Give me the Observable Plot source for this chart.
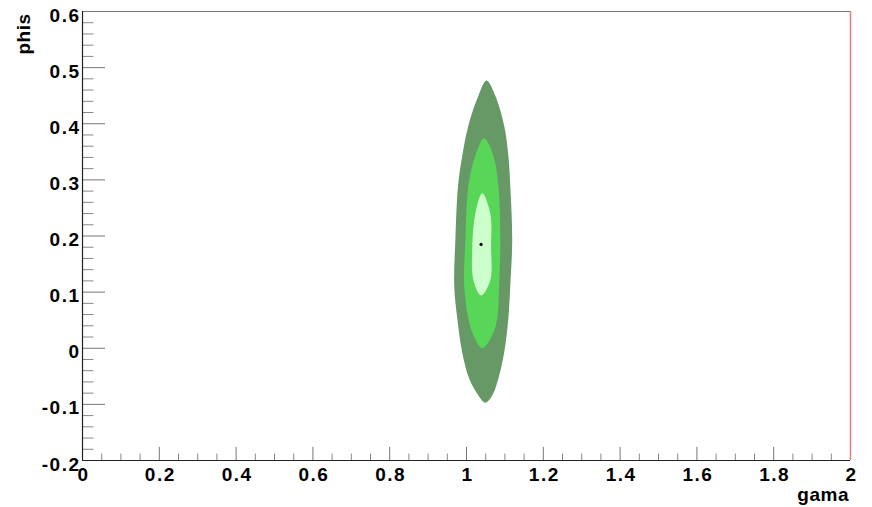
<!DOCTYPE html>
<html>
<head>
<meta charset="utf-8">
<script src="https://cdn.jsdelivr.net/npm/d3@7"></script>
<script src="https://cdn.jsdelivr.net/npm/@observablehq/plot@0.6"></script>
<style>
  html, body { margin: 0; padding: 0; background: #fff; }
  #chart svg { display: block; }
  #chart svg g[aria-label="y-axis tick label"] text,
  #chart svg g[aria-label="x-axis tick label"] text { letter-spacing: 1.5px; }
  #chart svg g[aria-label="text"] text { letter-spacing: 0.5px; }
</style>
</head>
<body>
<div id="chart"></div>
<script>
// Contour polygons (gama, phis)
const outerX = [1.052, 1.075, 1.098, 1.109, 1.114, 1.119, 1.114, 1.109, 1.098, 1.083, 1.067, 1.049, 1.031, 1.007, 0.989, 0.976, 0.968, 0.971, 0.978, 0.989, 1.005, 1.031];
const outerY = [0.477, 0.450, 0.397, 0.343, 0.290, 0.192, 0.112, 0.053, -0.008, -0.054, -0.084, -0.097, -0.084, -0.054, -0.008, 0.053, 0.112, 0.192, 0.290, 0.343, 0.397, 0.450];
const middleX = [1.046, 1.070, 1.083, 1.088, 1.085, 1.080, 1.067, 1.041, 1.018, 1.005, 0.994, 0.997, 1.005, 1.023];
const middleY = [0.374, 0.343, 0.290, 0.192, 0.112, 0.053, 0.023, 0.000, 0.023, 0.053, 0.112, 0.192, 0.290, 0.343];
const innerX = [1.041, 1.062, 1.064, 1.062, 1.038, 1.018, 1.015, 1.023];
const innerY = [0.276, 0.240, 0.180, 0.121, 0.094, 0.121, 0.180, 0.240];
const bestX = [1.038];
const bestY = [0.185];

const xTicks = [0, 0.2, 0.4, 0.6, 0.8, 1, 1.2, 1.4, 1.6, 1.8, 2];
const xMinor = [0.05, 0.1, 0.15, 0.25, 0.3, 0.35, 0.45, 0.5, 0.55, 0.65, 0.7, 0.75, 0.85, 0.9, 0.95, 1.05, 1.1, 1.15, 1.25, 1.3, 1.35, 1.45, 1.5, 1.55, 1.65, 1.7, 1.75, 1.85, 1.9, 1.95];
const yTicks = [-0.2, -0.1, 0, 0.1, 0.2, 0.3, 0.4, 0.5, 0.6];
const yMinor = [-0.18, -0.16, -0.14, -0.12, -0.08, -0.06, -0.04, -0.02, 0.02, 0.04, 0.06, 0.08, 0.12, 0.14, 0.16, 0.18, 0.22, 0.24, 0.26, 0.28, 0.32, 0.34, 0.36, 0.38, 0.42, 0.44, 0.46, 0.48, 0.52, 0.54, 0.56, 0.58];
const xTitle = "gama";
const yTitle = "phis";

const toRows = (xs, ys) => xs.map((x, i) => ({x, y: ys[i]}));
const outer = toRows(outerX, outerY);
const middle = toRows(middleX, middleY);
const inner = toRows(innerX, innerY);
const best = toRows(bestX, bestY);

const fmt = d => String(+d.toFixed(1));
const font = "'Liberation Sans', Arial, Helvetica, sans-serif";

const chart = Plot.plot({
  width: 872,
  height: 507,
  marginLeft: 82,
  marginRight: 22,
  marginTop: 11,
  marginBottom: 47,
  style: {fontFamily: font, background: "#fff"},
  x: {domain: [0, 2]},
  y: {domain: [-0.2, 0.6]},
  marks: [
    Plot.line(outer, {x: "x", y: "y", fill: "#669966", stroke: "none", curve: "catmull-rom-closed"}),
    Plot.line(middle, {x: "x", y: "y", fill: "#57d657", stroke: "none", curve: "catmull-rom-closed"}),
    Plot.line(inner, {x: "x", y: "y", fill: "#ccffcc", stroke: "none", curve: "catmull-rom-closed"}),
    Plot.dot(best, {x: "x", y: "y", r: 1.6, fill: "#000", stroke: "none"}),
    // inward ticks
    Plot.ruleY(yTicks, {y: d => d, x1: 0, x2: 0.06, stroke: "#777", strokeWidth: 1}),
    Plot.ruleY(yMinor, {y: d => d, x1: 0, x2: 0.03, stroke: "#888", strokeWidth: 1}),
    Plot.ruleX(xTicks, {x: d => d, y1: -0.2, y2: -0.2 + 0.0235, stroke: "#777", strokeWidth: 1}),
    Plot.ruleX(xMinor, {x: d => d, y1: -0.2, y2: -0.2 + 0.0115, stroke: "#888", strokeWidth: 1}),
    // frame
    Plot.ruleY([0.6], {stroke: "#777", strokeWidth: 1}),
    Plot.ruleX([2], {stroke: "#e08080", strokeWidth: 1.5}),
    Plot.ruleX([0], {stroke: "#222", strokeWidth: 1.2}),
    Plot.ruleY([-0.2], {stroke: "#222", strokeWidth: 1.2}),
    // axes labels
    Plot.axisY(yTicks, {tickSize: 0, tickPadding: 2, dy: 4, tickFormat: fmt, fontSize: 19, fontWeight: "bold", fill: "#000", label: null}),
    Plot.axisX(xTicks, {tickSize: 0, tickPadding: 7, dx: 1, tickFormat: fmt, fontSize: 19, fontWeight: "bold", fill: "#000", label: null}),
    Plot.text([xTitle], {text: d => d, frameAnchor: "bottom-right", dx: -1.5, dy: 34, textAnchor: "end", lineAnchor: "middle", fontSize: 19, fontWeight: "bold", fill: "#000"}),
    Plot.text([yTitle], {text: d => d, frameAnchor: "top-left", dx: -59, dy: 2, rotate: -90, textAnchor: "end", lineAnchor: "middle", fontSize: 19, fontWeight: "bold", fill: "#000"})
  ]
});
document.getElementById("chart").appendChild(chart);
</script>
</body>
</html>
